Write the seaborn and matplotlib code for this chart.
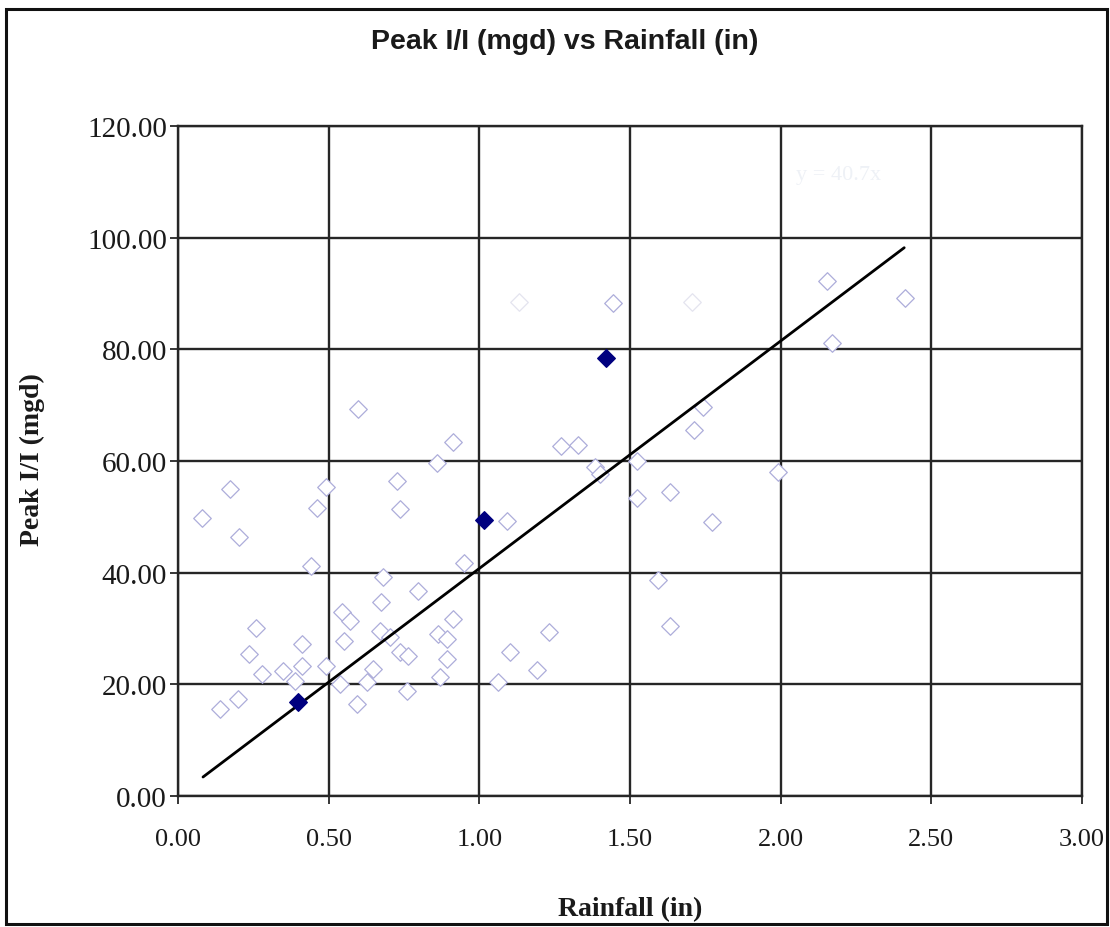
import matplotlib
matplotlib.use("Agg")
import matplotlib.pyplot as plt
import seaborn as sns
import pandas as pd
from matplotlib.patches import Rectangle

# ---- data ----
hollow_x = [0.080, 0.173, 0.202, 0.491, 0.461, 0.441, 0.727, 0.860, 0.913, 0.737,
            0.680, 0.797, 0.674, 0.949, 0.913, 0.259, 0.544, 0.571, 0.551, 0.412,
            0.236, 0.279, 0.348, 0.412, 0.388, 0.491, 0.538, 0.594, 0.627, 0.647,
            0.670, 0.704, 0.737, 0.763, 0.760, 0.863, 0.893, 0.893, 0.870, 0.139,
            0.199, 1.271, 1.328, 1.384, 1.401, 1.523, 1.523, 1.633, 1.713, 1.742,
            1.991, 1.092, 1.772, 1.593, 1.633, 1.231, 1.102, 1.191, 1.062, 2.154,
            2.413, 2.171, 1.444, 0.597]
hollow_y = [49.8, 55.0, 46.4, 55.3, 51.6, 41.2, 56.4, 59.6, 63.4, 51.4,
            39.2, 36.7, 34.7, 41.7, 31.7, 30.1, 33.0, 31.3, 27.8, 27.2,
            25.4, 21.9, 22.4, 23.3, 20.6, 23.3, 20.1, 16.5, 20.4, 22.7,
            29.6, 28.5, 25.8, 25.1, 18.8, 29.0, 28.1, 24.5, 21.3, 15.6,
            17.4, 62.7, 62.9, 58.9, 57.7, 60.0, 53.4, 54.5, 65.6, 69.7,
            58.0, 49.3, 49.1, 38.7, 30.4, 29.4, 25.8, 22.6, 20.4, 92.2,
            89.2, 81.1, 88.3, 69.3]
faint_x = [1.132, 1.706]
faint_y = [88.5, 88.5]
filled_x = [0.398, 1.016, 1.420]
filled_y = [16.8, 49.4, 78.5]
trend_x = [0.083, 2.41]
trend_y = [3.4, 98.2]

x_ticks = [0.0, 0.5, 1.0, 1.5, 2.0, 2.5, 3.0]
x_tick_labels = ["0.00", "0.50", "1.00", "1.50", "2.00", "2.50", "3.00"]
y_ticks = [0, 20, 40, 60, 80, 100, 120]
y_tick_labels = ["0.00", "20.00", "40.00", "60.00", "80.00", "100.00", "120.00"]

title = "Peak I/I (mgd) vs Rainfall (in)"
x_label = "Rainfall (in)"
y_label = "Peak I/I (mgd)"

df_hollow = pd.DataFrame({"x": hollow_x, "y": hollow_y})
df_faint = pd.DataFrame({"x": faint_x, "y": faint_y})
df_filled = pd.DataFrame({"x": filled_x, "y": filled_y})
df_trend = pd.DataFrame({"x": trend_x, "y": trend_y})

sns.set_theme(style="white")
plt.rcParams["font.family"] = ["Liberation Serif", "DejaVu Serif"]

fig = plt.figure(figsize=(11.1, 9.28), dpi=100)
ax = fig.add_axes([178 / 1110, 1 - 797 / 928, (1082 - 178) / 1110, (797 - 127) / 928])

ax.set_xlim(0, 3)
ax.set_ylim(0, 120)
ax.set_xticks(x_ticks)
ax.set_xticklabels(x_tick_labels)
ax.set_yticks(y_ticks)
ax.set_yticklabels(y_tick_labels)
ax.grid(True, color="#262626", linewidth=1.7, zorder=0)
ax.set_axisbelow(True)
for s in ax.spines.values():
    s.set_color("#262626")
    s.set_linewidth(1.7)

ax.tick_params(axis="x", direction="out", length=6, width=1.3, color="#262626",
               pad=17, labelsize=19, labelcolor="#1a1a1a")
ax.tick_params(axis="y", direction="out", length=6, width=1.3, color="#262626",
               pad=2, labelsize=21, labelcolor="#1a1a1a")
ax.tick_params(bottom=True, left=True)

sns.scatterplot(data=df_hollow, x="x", y="y", ax=ax, marker="D", s=80,
                facecolor="white", edgecolor="#adadda", linewidth=0.9, zorder=3)
sns.scatterplot(data=df_faint, x="x", y="y", ax=ax, marker="D", s=80,
                facecolor="white", edgecolor="#e4e4ef", linewidth=0.9, zorder=3)
sns.lineplot(data=df_trend, x="x", y="y", ax=ax, color="black", linewidth=2.0,
             zorder=4)
sns.scatterplot(data=df_filled, x="x", y="y", ax=ax, marker="D", s=80,
                color="#00007f", edgecolor="#00007f", linewidth=1.0, zorder=5)

ax.text(2.05, 110.5, "y = 40.7x", color="#eef1f6", fontsize=16, zorder=6)

ax.set_xlabel(x_label, fontsize=20, fontweight="bold", color="#1a1a1a")
ax.set_ylabel(y_label, fontsize=20, fontweight="bold", color="#1a1a1a")
ax.xaxis.set_label_coords(0.5, -0.149)
ax.yaxis.set_label_coords(-0.147, 0.503)

fig.text(565 / 1110, 1 - 42 / 928, title, ha="center", va="center",
         fontsize=20.5, fontweight="bold", family=["Liberation Sans", "DejaVu Sans"],
         color="#1a1a1a")

fig.patches.append(Rectangle((6 / 1110, 1 - 925 / 928), (1107 - 6) / 1110,
                             (925 - 10) / 928, transform=fig.transFigure,
                             fill=False, edgecolor="#111111", linewidth=2.2))

fig.savefig("out.png", dpi=100)
